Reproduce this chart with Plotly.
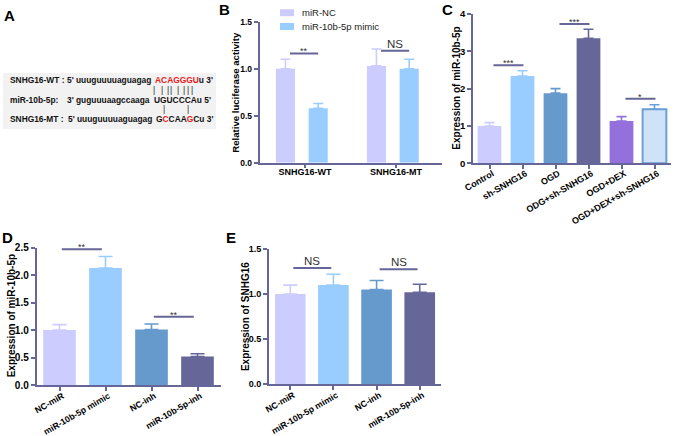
import plotly.graph_objects as go

W, H = 677, 436
FONT = "Arial, 'Liberation Sans', sans-serif"
AXC = "#666699"

# ---------------- data ----------------
# Panel A (sequence alignment)
a_labels = ["SNHG16-WT :", "miR-10b-5p:", "SNHG16-MT :"]
a_prefix = ["5' uuuguuuuaguagag", "3' guguuuaagccaaga", "5' uuuguuuuaguagag"]
a_core = ["ACAGGGUu 3'", "UGUCCCAu 5'", "GCCAAGCu 3'"]
a_red_idx = [[0, 1, 2, 3, 4, 5, 6], [], [1, 5]]

# Panel B
b_groups = ["SNHG16-WT", "SNHG16-MT"]
b_series = ["miR-NC", "miR-10b-5p mimic"]
b_nc = [1.00, 1.03]
b_nc_err = [0.10, 0.18]
b_mimic = [0.58, 1.00]
b_mimic_err = [0.05, 0.10]
b_sig_text = ["**", "NS"]
b_sig_y = [1.163, 1.19]

# Panel C
c_cats = ["Control", "sh-SNHG16", "OGD", "ODG+sh-SNHG16", "OGD+DEX", "OGD+DEX+sh-SNHG16"]
c_vals = [1.00, 2.34, 1.88, 3.35, 1.13, 1.45]
c_errs = [0.09, 0.14, 0.12, 0.24, 0.12, 0.12]
c_sig_pairs = [(0, 1), (2, 3), (4, 5)]
c_sig_y = [2.63, 3.73, 1.73]
c_sig_text = ["***", "***", "*"]

# Panel D
d_cats = ["NC-miR", "miR-10b-5p mimic", "NC-inh", "miR-10b-5p-inh"]
d_vals = [1.00, 2.13, 1.01, 0.52]
d_errs = [0.10, 0.21, 0.10, 0.05]
d_sig_pairs = [(0, 1), (2, 3)]
d_sig_y = [2.47, 1.244]
d_sig_text = ["**", "**"]

# Panel E
e_cats = ["NC-miR", "miR-10b-5p mimic", "NC-inh", "miR-10b-5p-inh"]
e_vals = [1.00, 1.10, 1.05, 1.02]
e_errs = [0.10, 0.12, 0.10, 0.09]
e_sig_pairs = [(0, 1), (2, 3)]
e_sig_y = [1.29, 1.275]
e_sig_text = ["NS", "NS"]

# ---------------- styles ----------------
b_colors = ["#ccccff", "#99ccff"]
c_colors = ["#ccccff", "#99ccff", "#6699cc", "#666699", "#9370db", "#cfe2f8"]
c_line = [None, None, None, None, None, "#6a9fd8"]
de_colors = ["#ccccff", "#99ccff", "#6699cc", "#666699"]


def px(x):
    return x / W


def py(y):
    return 1 - y / H


fig = go.Figure()

# ---- Panel B bars ----
b_offsets = [-0.32, 0.04]
b_width = 0.21
for name, vals, errs, col, off in zip(b_series, [b_nc, b_mimic], [b_nc_err, b_mimic_err], b_colors, b_offsets):
    fig.add_trace(go.Bar(
        x=b_groups, y=vals, name=name, xaxis="x", yaxis="y",
        width=b_width, offset=off,
        marker=dict(color=col, line=dict(width=0)),
        error_y=dict(type="data", array=errs, arrayminus=[0] * len(errs), symmetric=False,
                     color=col, thickness=1.6, width=5),
        showlegend=False,
    ))


def add_single_bars(cats, vals, errs, colors, xa, ya, w, cap, lines=None):
    for i, (c, v, e, col) in enumerate(zip(cats, vals, errs, colors)):
        lc = lines[i] if lines else None
        fig.add_trace(go.Bar(
            x=[c], y=[v], xaxis=xa, yaxis=ya, width=w, offset=-w / 2,
            marker=dict(color=col, line=dict(width=2 if lc else 0, color=lc if lc else col)),
            error_y=dict(type="data", array=[e], arrayminus=[0], symmetric=False,
                         color=lc if lc else col, thickness=1.6, width=cap),
            showlegend=False,
        ))


add_single_bars(c_cats, c_vals, c_errs, c_colors, "x2", "y2", 0.72, 5, c_line)
add_single_bars(d_cats, d_vals, d_errs, de_colors, "x3", "y3", 0.71, 7)
add_single_bars(e_cats, e_vals, e_errs, de_colors, "x4", "y4", 0.71, 7)

shapes = []
annotations = []

# grey box for panel A
shapes.append(dict(type="rect", xref="paper", yref="paper", x0=px(3), x1=px(216), y0=py(129), y1=py(73),
                   fillcolor="#f2f2f2", line=dict(width=0), layer="below"))

# manual legend for panel B
for k, (name, col) in enumerate(zip(b_series, b_colors)):
    yc = 12.7 + 13.8 * k
    shapes.append(dict(type="rect", xref="paper", yref="paper", x0=px(280), x1=px(294),
                       y0=py(yc + 3.5), y1=py(yc - 3.5), fillcolor=col, line=dict(width=0)))
    annotations.append(dict(xref="paper", yref="paper", x=px(300), y=py(yc), text=name, showarrow=False,
                            xanchor="left", yanchor="middle",
                            font=dict(family=FONT, size=9.5, color="#222222")))


def sig(xref, yref, x0, x1, y, text, size, yshift):
    shapes.append(dict(type="line", xref=xref, yref=yref, x0=x0, x1=x1, y0=y, y1=y,
                       line=dict(color=AXC, width=2)))
    annotations.append(dict(xref=xref, yref=yref, x=(x0 + x1) / 2, y=y, text=text, showarrow=False,
                            yanchor="bottom", yshift=yshift,
                            font=dict(family=FONT, size=size, color="#333333")))


# B significance
for gi, (t, y) in enumerate(zip(b_sig_text, b_sig_y)):
    big = t == "NS"
    sig("x", "y", gi - 0.165, gi + 0.145, y, t, 11.5 if big else 9, -1 if big else -5)
# C significance
for (i, j), y, t in zip(c_sig_pairs, c_sig_y, c_sig_text):
    sig("x2", "y2", i + 0.12, j + 0.03, y, t, 9, -5)
# D significance
for (i, j), y, t in zip(d_sig_pairs, d_sig_y, d_sig_text):
    sig("x3", "y3", i + 0.05, j - 0.08, y, t, 9, -5)
# E significance
for (i, j), y, t in zip(e_sig_pairs, e_sig_y, e_sig_text):
    sig("x4", "y4", i + 0.07, j - 0.05, y, t, 11.5, -1)

# ---- Panel A text ----
a_y = [80, 99.5, 118.5]
a_split = [153, 152, 154]
afont = dict(family=FONT, size=8.4, color="#111111", weight="bold")
for lab, pre, core, reds, y, sx in zip(a_labels, a_prefix, a_core, a_red_idx, a_y, a_split):
    html = "".join(f'<span style="color:#e82020">{ch}</span>' if k in reds else ch for k, ch in enumerate(core))
    annotations.append(dict(xref="paper", yref="paper", x=px(8), y=py(y), text=lab, showarrow=False,
                            xanchor="left", yanchor="middle", font=afont))
    annotations.append(dict(xref="paper", yref="paper", x=px(sx), y=py(y), text=pre, showarrow=False,
                            xanchor="right", yanchor="middle", font=afont))
    annotations.append(dict(xref="paper", yref="paper", x=px(sx), y=py(y), text=html, showarrow=False,
                            xanchor="left", yanchor="middle", font=afont))
pipe_rows = [(90, [154.3, 161.7, 167.7, 171.0, 177.7, 184.0, 188.3, 192.3]), (108.5, [164.3, 188.3])]
for y, xs in pipe_rows:
    for x in xs:
        annotations.append(dict(xref="paper", yref="paper", x=px(x), y=py(y), text="|", showarrow=False,
                                xanchor="center", yanchor="middle",
                                font=dict(family=FONT, size=8.4, color="#222222")))

# ---- panel letters ----
for letter, x, y in [("A", 9, 15.5), ("B", 224.5, 10), ("C", 447, 10), ("D", 7.5, 237.5), ("E", 231, 237.5)]:
    annotations.append(dict(xref="paper", yref="paper", x=px(x), y=py(y), text=letter, showarrow=False,
                            xanchor="center", yanchor="middle",
                            font=dict(family=FONT, size=15, color="#000000", weight="bold")))

# ---- axis titles ----
for text, x, y, s in [("Relative luciferase activity", 235.5, 92.2, 9.6),
                      ("Expression of miR-10b-5p", 457, 88.7, 10),
                      ("Expression of miR-10b-5p", 11, 316.3, 10),
                      ("Expression of SNHG16", 245.5, 316.6, 10)]:
    annotations.append(dict(xref="paper", yref="paper", x=px(x), y=py(y), text=text, showarrow=False,
                            textangle=-90, xanchor="center", yanchor="middle",
                            font=dict(family=FONT, size=s, color="#000000", weight="bold")))


def yax(domain, rng, dtick, fmt, anchor, fs):
    return dict(domain=domain, range=rng, dtick=dtick, tick0=0, tickformat=fmt, anchor=anchor,
                automargin=False,
                showline=True, linecolor=AXC, linewidth=1.5, ticks="outside", ticklen=4,
                tickwidth=1.5, tickcolor=AXC, showgrid=False, zeroline=False,
                tickfont=dict(family=FONT, size=fs, color="#000000", weight="bold"))


def xax(domain, n, anchor, fs, angle, shift=0, standoff=0):
    return dict(domain=domain, range=[-0.5, n - 0.5], anchor=anchor, type="category",
                automargin=False, ticklabelshift=shift, ticklabelstandoff=standoff,
                showline=True, linecolor=AXC, linewidth=1.5, ticks="outside", ticklen=4,
                tickwidth=1.5, tickcolor=AXC, showgrid=False, zeroline=False, tickangle=angle,
                tickfont=dict(family=FONT, size=fs, color="#000000", weight="bold"))


fig.update_layout(
    width=W, height=H, margin=dict(l=0, r=0, t=0, b=0, autoexpand=False),
    paper_bgcolor="white", plot_bgcolor="rgba(0,0,0,0)",
    barmode="group", showlegend=False,
    xaxis=xax([px(259.5), px(441.5)], 2, "y", 9, 0, 0, -4),
    yaxis=yax([py(162.7), py(21.7)], [0, 1.5], 0.5, ".1f", "x", 8.5),
    xaxis2=xax([px(473), px(671)], 6, "y2", 9, -30, 3, -4),
    yaxis2=yax([py(163.3), py(14)], [0, 4], 1, "d", "x2", 9.5),
    xaxis3=xax([px(36.5), px(220.5)], 4, "y3", 8.7, -30, 3, -3),
    yaxis3=yax([py(385), py(247.7)], [0, 2.5], 0.5, ".1f", "x3", 10),
    xaxis4=xax([px(268.7), px(441.3)], 4, "y4", 8.7, -30, 3, -3),
    yaxis4=yax([py(384.3), py(249)], [0, 1.5], 0.5, ".1f", "x4", 9),
    shapes=shapes, annotations=annotations,
)

fig.write_html("out.html", config={"displayModeBar": False},
               post_script="document.body.style.margin='0px';document.body.style.overflow='hidden';")
